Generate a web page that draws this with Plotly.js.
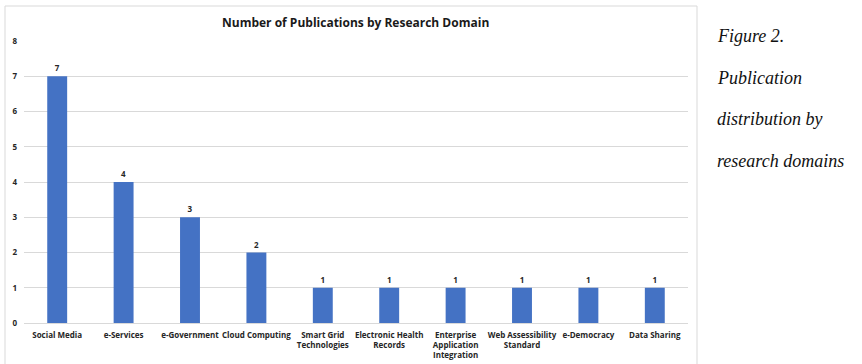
<!DOCTYPE html>
<html>
<head>
<meta charset="utf-8">
<script src="https://cdn.plot.ly/plotly-3.0.1.min.js"></script>
<style>html,body{margin:0;padding:0;background:#fff;}#chart{width:862px;height:364px;}</style>
</head>
<body>
<div id="chart"></div>
<script>
const categories = ["Social Media","e-Services","e-Government","Cloud Computing","Smart Grid<br>Technologies","Electronic Health<br>Records","Enterprise<br>Application<br>Integration","Web Assessibility<br>Standard","e-Democracy","Data Sharing"];
const counts = [7,4,3,2,1,1,1,1,1,1];
const yTicks = [0,1,2,3,4,5,6,7,8];
const chartTitle = "Number of Publications by Research Domain";
const captionLines = ["Figure 2.","Publication","distribution by","research domains"];

const L = 24, R = 688, T = 41, B = 323, W = 862, H = 364;
const pw = R - L, ph = B - T;
const px = x => (x - L) / pw;
const py = y => (B - y) / ph;

const trace = {
  type: "bar",
  x: categories,
  y: counts,
  marker: {color: "#4472C4"},
  text: counts.map(String),
  textposition: "outside",
  cliponaxis: false,
  textfont: {family: "Open Sans", size: 8, color: "#262626", weight: 700},
  hoverinfo: "none"
};

const annotations = captionLines.map((t, i) => ({
  xref: "paper", yref: "paper",
  x: px(715), y: py(36 + i * 41.5),
  xanchor: "left", yanchor: "middle",
  text: "<i>" + t + "</i>", showarrow: false,
  font: {family: "Liberation Serif, Times New Roman, serif", size: 18, color: "#111"}
}));
annotations.push({
  xref: "paper", yref: "paper",
  x: px(355), y: py(22),
  xanchor: "center", yanchor: "middle",
  text: chartTitle, showarrow: false,
  font: {family: "Open Sans", size: 12, color: "#1a1a1a", weight: 700}
});

const layout = {
  width: W, height: H,
  margin: {l: L, r: W - R, t: T, b: H - B, pad: 0},
  paper_bgcolor: "#fff", plot_bgcolor: "#fff",
  showlegend: false,
  bargap: 0.7,
  xaxis: {
    type: "category",
    showgrid: false,
    showline: true, linecolor: "#d9d9d9", linewidth: 1,
    ticks: "",
    tickangle: 0,
    tickfont: {family: "Open Sans", size: 8, color: "#262626", weight: 700},
    ticklabelstandoff: 4
  },
  yaxis: {
    range: [0, 8],
    tickvals: yTicks,
    ticktext: yTicks.map(String),
    showgrid: true, gridcolor: "#d9d9d9", gridwidth: 1,
    zeroline: false, showline: false,
    ticks: "",
    tickfont: {family: "Open Sans", size: 8, color: "#262626", weight: 700},
    ticklabelstandoff: 6
  },
  shapes: [{
    type: "rect", xref: "paper", yref: "paper",
    x0: px(5), x1: px(697), y0: py(372), y1: py(6),
    line: {color: "#d9d9d9", width: 1}, fillcolor: "rgba(0,0,0,0)", layer: "below"
  }],
  annotations: annotations
};

Plotly.newPlot("chart", [trace], layout, {displayModeBar: false, staticPlot: true});
</script>
</body>
</html>
